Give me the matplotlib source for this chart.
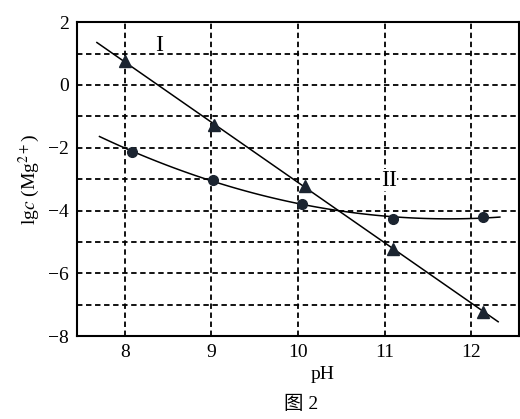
import numpy as np
import matplotlib.pyplot as plt

plt.rcParams['font.family'] = ['Liberation Serif', 'Noto Sans CJK SC']
plt.rcParams['mathtext.fontset'] = 'stix'

# data
ph_I = [8.0, 9.03, 10.08, 11.1, 12.14]
lgc_I = [0.75, -1.28, -3.22, -5.23, -7.22]
ph_II = [8.09, 9.02, 10.05, 11.1, 12.13]
lgc_II = [-2.14, -3.03, -3.78, -4.27, -4.21]

xticks = [8, 9, 10, 11, 12]
yticks = [2, 0, -2, -4, -6, -8]
ygrid = [1, 0, -1, -2, -3, -4, -5, -6, -7]

fig = plt.figure(figsize=(5.2, 4.19), dpi=100)
ax = fig.add_axes([0.148, 0.198, 0.85, 0.749])
ax.set_xlim(7.45, 12.55)
ax.set_ylim(-8, 2)

# dashed grid
for x in xticks:
    ax.axvline(x, color='black', ls=(0, (3, 2)), lw=1.3, zorder=1)
for y in ygrid:
    ax.axhline(y, color='black', ls=(0, (3, 2)), lw=1.3, zorder=1)

# line I (straight)
k, b = np.polyfit(ph_I, lgc_I, 1)
xs = np.array([7.68, 12.31])
ax.plot(xs, k * xs + b, color='black', lw=1.1, zorder=2)

# curve II (smooth)
c = np.polyfit(ph_II, lgc_II, 2)
xs2 = np.linspace(7.71, 12.33, 100)
ax.plot(xs2, np.polyval(c, xs2), color='black', lw=1.1, zorder=2)

ax.plot(ph_I, lgc_I, '^', color='#1b2430', ms=9, zorder=3)
ax.plot(ph_II, lgc_II, 'o', color='#1b2430', ms=7, zorder=3)

ax.text(8.4, 1.27, 'I', fontsize=17, ha='center', va='center')
ax.text(11.05, -3.03, 'II', fontsize=17, ha='center', va='center',
        bbox=dict(facecolor='white', edgecolor='none', pad=0.3))

ax.set_xticks(xticks)
ax.set_yticks(yticks)
ax.set_yticklabels(['2', '0', '−2', '−4', '−6', '−8'])
ax.tick_params(length=0, labelsize=14, pad=6)
for s in ax.spines.values():
    s.set_linewidth(1.5)

ax.set_ylabel('lg$c$ (Mg$^{2+}$)', fontsize=14, labelpad=4)
fig.text(0.62, 0.095, 'pH', fontsize=14, ha='center')
fig.text(0.58, 0.025, '图 2', fontsize=14, ha='center')

plt.savefig('out.png', dpi=100)
